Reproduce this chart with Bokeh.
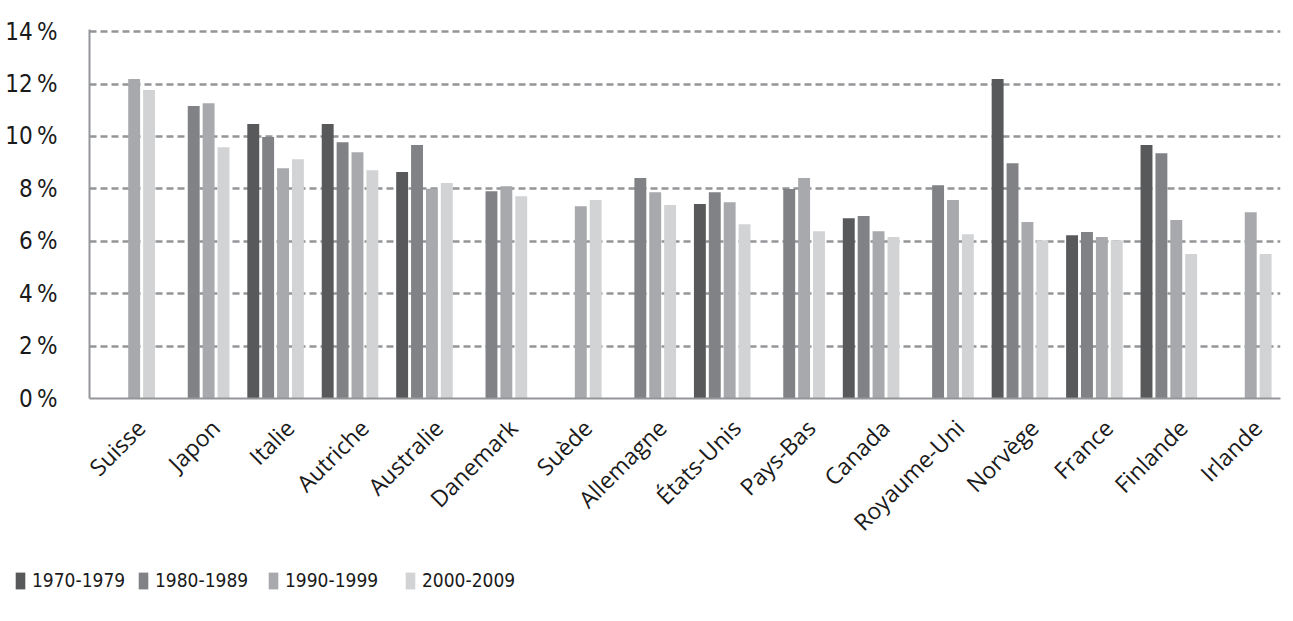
import math
from bokeh.plotting import figure
from bokeh.layouts import column
from bokeh.models import (ColumnDataSource, Legend, LegendItem, Range1d,
                          LinearAxis, FixedTicker)
from bokeh.transform import dodge
from bokeh.embed import file_html
from bokeh.resources import INLINE

countries = ["Suisse", "Japon", "Italie", "Autriche", "Australie", "Danemark", "Suède",
             "Allemagne", "États-Unis", "Pays-Bas", "Canada", "Royaume-Uni", "Norvège",
             "France", "Finlande", "Irlande"]
decades = ["1970-1979", "1980-1989", "1990-1999", "2000-2009"]
v1970 = [None, None, 10.47, 10.47, 8.64, None, None, None, 7.42, None, 6.88, None, 12.19, 6.23, 9.67, None]
v1980 = [None, 11.16, 9.98, 9.78, 9.67, 7.91, None, 8.41, 7.87, 7.99, 6.96, 8.14, 8.98, 6.35, 9.36, None]
v1990 = [12.19, 11.27, 8.79, 9.40, 8.00, 8.10, 7.34, 7.87, 7.49, 8.41, 6.38, 7.57, 6.73, 6.16, 6.81, 7.11]
v2000 = [11.77, 9.59, 9.13, 8.71, 8.22, 7.72, 7.57, 7.38, 6.65, 6.38, 6.16, 6.27, 6.04, 6.04, 5.51, 5.51]
y_ticks = [0, 2, 4, 6, 8, 10, 12, 14]
y_tick_labels = ["0\u202f%", "2\u202f%", "4\u202f%", "6\u202f%", "8\u202f%", "10\u202f%", "12\u202f%", "14\u202f%"]

colors = ["#58595b", "#808285", "#a7a9ac", "#d1d3d4"]
offsets = [-0.3, -0.1, 0.1, 0.3]
series = [v1970, v1980, v1990, v2000]

NARROW = "'Liberation Sans Narrow', 'DejaVu Sans Condensed', sans-serif"

n = len(countries)
centers = [i + 0.5 for i in range(n)]

p = figure(x_range=Range1d(0, n), y_range=(0, 14.08),
           width=1288, height=555, output_backend="svg", toolbar_location=None,
           min_border_left=89, min_border_right=8, min_border_top=29, min_border_bottom=157)
p.outline_line_color = None
p.background_fill_color = "white"
p.border_fill_color = "white"

sources = []
for dec, vals, col, off in zip(decades, series, colors, offsets):
    src = ColumnDataSource(dict(pos=centers, country=countries,
                                val=[float("nan") if v is None else v for v in vals]))
    sources.append(src)
    p.vbar(x=dodge("pos", off), top="val", bottom=0, width=0.16,
           source=src, fill_color=col, line_color=None)

# grid
p.xgrid.grid_line_color = None
p.ygrid.ticker = y_ticks
p.ygrid.grid_line_color = "#939598"
p.ygrid.grid_line_width = 2.5
p.ygrid.grid_line_dash = "7 4"

# y axis
p.yaxis.ticker = y_ticks
p.yaxis.major_label_overrides = {t: l for t, l in zip(y_ticks, y_tick_labels)}
p.yaxis.axis_line_color = "#939598"
p.yaxis.axis_line_width = 2
p.yaxis.major_tick_line_color = None
p.yaxis.minor_tick_line_color = None
p.yaxis.major_label_standoff = 26
p.yaxis.major_label_text_font = NARROW
p.yaxis.major_label_text_font_size = "24px"
p.yaxis.major_label_text_color = "#1a1a1a"

# main x axis: only the line
p.xaxis.ticker = FixedTicker(ticks=[])
p.xaxis.axis_line_color = "#939598"
p.xaxis.axis_line_width = 2
p.xaxis.major_tick_line_color = None
p.xaxis.minor_tick_line_color = None
p.xaxis.major_label_text_font_size = "0px"
p.xaxis.major_label_standoff = 0

# label axis (category names), slightly shifted like the reference
shift = 0.19
p.extra_x_ranges = {"labels": Range1d(-shift, n - shift)}
lab_axis = LinearAxis(x_range_name="labels", ticker=FixedTicker(ticks=centers),
                      major_label_overrides={t: c for t, c in zip(centers, countries)},
                      axis_line_color=None, major_tick_line_color=None,
                      minor_tick_line_color=None, major_label_orientation=math.pi / 4,
                      major_label_standoff=19, major_label_text_font="Open Sans",
                      major_label_text_font_size="23px", major_label_text_color="#1a1a1a")
p.add_layout(lab_axis, "below")

# legend strip: same series, drawn outside its visible range, only the legend shows
lg = figure(x_range=Range1d(0, 1), y_range=Range1d(1000, 1001), width=1288, height=60,
            output_backend="svg", toolbar_location=None, x_axis_type=None, y_axis_type=None,
            min_border=0)
lg.outline_line_color = None
lg.xgrid.visible = False
lg.ygrid.visible = False
leg_x = [14, 137, 267, 404]
for dec, src, col, off, lx in zip(decades, sources, colors, offsets, leg_x):
    r = lg.vbar(x=dodge("pos", off), top="val", bottom=0, width=0.16,
                source=src, fill_color=col, line_color=None)
    leg = Legend(items=[LegendItem(label=dec, renderers=[r])], location=(lx, 24),
                 orientation="horizontal", glyph_width=12, glyph_height=21,
                 label_text_font=NARROW, label_text_font_size="19px",
                 label_text_color="#1a1a1a", label_standoff=6, padding=0, margin=0,
                 border_line_color=None, background_fill_alpha=0)
    lg.add_layout(leg)

layout = column(p, column(lg, spacing=0), spacing=0)
open("out.html", "w").write(file_html(layout, INLINE))
